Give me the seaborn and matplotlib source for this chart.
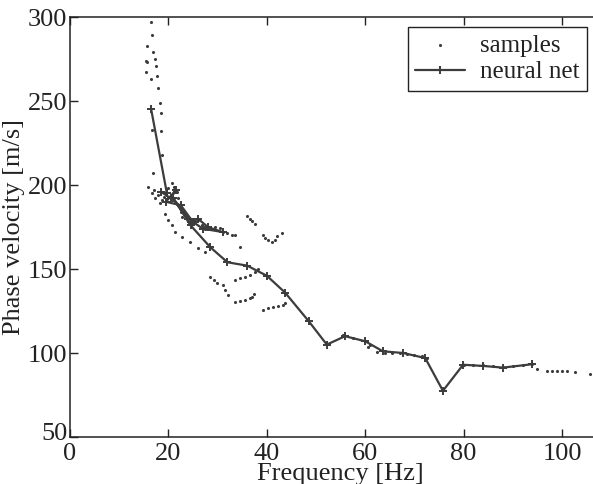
import numpy as np
import pandas as pd
import matplotlib
matplotlib.use("Agg")
import matplotlib.pyplot as plt
import matplotlib.transforms as mtransforms
import seaborn as sns

# ---- data ----
# neural net output, in the order it was drawn
nn_freq = [16.5, 19.7, 18.5, 20.5, 21.5, 19.5, 22.5, 25.0, 26.0, 28.0, 31.0, 27.0,
           24.0, 21.0, 24.5, 28.5, 32.0, 36.0, 40.0, 43.7, 48.5, 52.2, 55.9, 60.0,
           63.6, 67.7, 72.2, 75.8, 79.9, 84.0, 88.0, 93.9]
nn_vel = [245, 195, 196, 192, 197, 190, 188, 178, 180, 175, 172, 174,
          180, 192, 176, 163, 154, 152, 146, 136, 119, 105, 110, 107,
          101, 100, 97, 77.5, 93, 92.3, 91.3, 93.3]

# measured samples
smp_freq = [
    # steep column at low frequency
    16.5, 16.7, 15.7, 16.9, 15.5, 15.7, 17.3, 17.5, 15.4, 16.5, 17.7, 17.9,
    18.3, 18.5, 16.7, 18.5, 18.7, 16.9,
    # left lower branch
    15.9, 16.6, 17.3, 18.3, 19.3, 19.9, 20.7, 21.3, 22.8, 24.4, 26.0, 27.4,
    # cluster / hook near 20 Hz
    17.0, 17.8, 18.6, 19.2, 20.0, 20.7, 21.2, 21.7, 22.0, 22.3, 22.6, 22.8,
    # upper branch 26-34 Hz
    26.0, 26.8, 27.5, 28.5, 29.5, 30.5, 31.0, 32.0, 33.0, 33.5,
    # short segments
    36.0, 36.5, 37.0, 37.6,
    39.2, 39.7, 40.3, 41.0, 41.7, 42.1, 43.0,
    34.5,
    28.5, 29.2, 29.9,
    31.1, 31.6, 32.1,
    33.5, 34.5, 35.5, 36.5, 37.6, 38.2,
    33.5, 34.5, 35.5, 36.5, 37.0, 37.5,
    39.2, 40.2, 41.2, 42.3, 43.3, 43.6,
    # high frequency part
    55.5, 57.5, 60.6, 61.0,
    62.5, 64.0, 65.5, 67.0, 68.5, 70.0, 71.5, 72.6,
    80.0, 82.0, 84.0, 86.0, 88.0, 90.0, 92.0, 94.0,
    95.0, 97.0, 98.0, 99.0, 100.0, 101.0, 102.6, 105.7,
]
smp_vel = [
    297, 289, 283, 279, 274, 273, 275, 271, 267, 263, 265, 258,
    249, 243, 233, 232, 218, 207,
    199, 195, 192, 189, 183, 179, 176, 172, 169, 166, 162.5, 160,
    197, 194, 191, 193, 198, 201, 199, 196, 192, 188, 184, 181,
    179, 176, 174, 174.5, 175, 174.5, 172, 171.5, 170.5, 170,
    181.5, 180, 178.5, 177,
    170.5, 168.5, 167, 166.3, 167, 169.5, 171.5,
    163,
    145, 143.5, 141.7,
    140.5, 137.5, 134.5,
    143.5, 144.5, 145.5, 146.5, 148.5, 150,
    130.4, 131, 131.8, 132.5, 133.5, 135,
    125.6, 126.5, 127.2, 127.8, 128.6, 130,
    110.5, 109, 103.5, 104.5,
    100.5, 100.2, 100, 99.8, 99.5, 99, 98.3, 97.3,
    93, 92.8, 92.6, 92.2, 91.5, 92, 92.8, 93.3,
    90.5, 89.2, 89, 89.2, 89.3, 89.2, 88.5, 87.5,
]

x_ticks = [0, 20, 40, 60, 80, 100]
y_ticks = [50, 100, 150, 200, 250, 300]

nn_df = pd.DataFrame({"f": nn_freq, "v": nn_vel})
smp_df = pd.DataFrame({"f": smp_freq, "v": smp_vel})

sns.set_style("ticks")
plt.rcParams["font.family"] = ["Liberation Serif", "DejaVu Serif"]
plt.rcParams["mathtext.fontset"] = "stix"

W, H = 593, 484
fig = plt.figure(figsize=(W / 100, H / 100), dpi=100)
fig.patch.set_facecolor("white")

x0, xmax = 70, 110
px_per_unit = 4.92
ax = fig.add_axes([x0 / W, (H - 437) / H, xmax * px_per_unit / W, (437 - 17) / H])
ax.set_facecolor("white")

col = "#3c3c3c"
sns.scatterplot(data=smp_df, x="f", y="v", ax=ax, color=col, s=5, linewidth=0,
                marker="o", label="samples", zorder=3)
sns.lineplot(data=nn_df, x="f", y="v", ax=ax, sort=False, estimator=None,
             color=col, linewidth=1.6, marker="+", markersize=6,
             markeredgewidth=1.4, markeredgecolor=col, markerfacecolor=col,
             label="neural net", zorder=4)

ax.set_xlim(0, xmax)
ax.set_ylim(50, 300)
ax.set_xticks(x_ticks)
ax.set_yticks(y_ticks)
ax.tick_params(direction="in", top=True, right=True, length=6, width=1,
               labelsize=19, colors="#222222")
ax.tick_params(axis="x", pad=4)
ax.tick_params(axis="y", pad=2)
fig.canvas.draw()
shift = mtransforms.ScaledTranslation(0, 5 / 100, fig.dpi_scale_trans)
for lab in ax.get_yticklabels():
    if lab.get_text() == "50":
        lab.set_transform(lab.get_transform() + shift)
for s in ax.spines.values():
    s.set_linewidth(1.1)
    s.set_color("#222222")

ax.set_xlabel("Frequency [Hz]", fontsize=19, color="#222222", labelpad=-1)
ax.set_ylabel("Phase velocity [m/s]", fontsize=19, color="#222222", labelpad=2)

leg = ax.legend(loc="upper right", bbox_to_anchor=(587 / W, 1 - 27 / H),
                bbox_transform=fig.transFigure, fontsize=18, frameon=True,
                fancybox=False, edgecolor="#222222", framealpha=1,
                handlelength=2.0, borderpad=0.3, labelspacing=0.15,
                handletextpad=0.6, borderaxespad=0)
leg.get_frame().set_linewidth(1.0)
for t in leg.get_texts():
    t.set_color("#222222")

fig.savefig("out.png", dpi=100)
